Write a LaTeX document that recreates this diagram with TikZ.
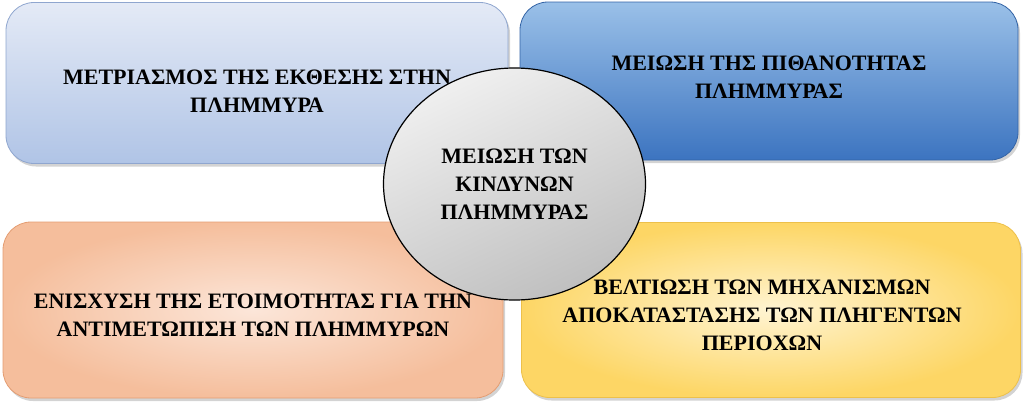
\documentclass[tikz,border=0pt]{standalone}
\usepackage{fontspec}
\setmainfont{Liberation Serif}
\usepackage{tikz}
\usetikzlibrary{shapes.geometric, shadows}
\definecolor{paleblue}{HTML}{E4EAF6}
\definecolor{paleblue2}{HTML}{B0C4E6}
\definecolor{paleedge}{HTML}{8FA6CF}
\definecolor{deepblue}{HTML}{9AC0E8}
\definecolor{deepblue2}{HTML}{3C74C0}
\definecolor{deepedge}{HTML}{3464A6}
\definecolor{peach}{HTML}{FCE6D9}
\definecolor{peach2}{HTML}{F5BE9C}
\definecolor{peachedge}{HTML}{E49D72}
\definecolor{butter}{HTML}{FFF4D2}
\definecolor{butter2}{HTML}{FDD665}
\definecolor{butteredge}{HTML}{EDC04A}
\tikzstyle{card} = [rectangle, draw, rounded corners = 28pt, inner sep = 0pt, line width = 0.8pt, drop shadow = {shadow xshift = 2pt, shadow yshift = -3pt, opacity = 0.35}]
\tikzstyle{caption} = [align = center, font = \bfseries\fontsize{22}{28}\selectfont, inner sep = 0pt]
\tikzstyle{exposurecard} = [card, draw = paleedge, top color = paleblue, bottom color = paleblue2]
\tikzstyle{chancecard} = [card, draw = deepedge, top color = deepblue, bottom color = deepblue2]
\tikzstyle{readycard} = [card, draw = peachedge, shading = radial, inner color = peach, outer color = peach2]
\tikzstyle{recovercard} = [card, draw = butteredge, shading = radial, inner color = butter, outer color = butter2]
\tikzstyle{core} = [ellipse, draw, line width = 1.2pt, inner sep = 0pt, top color = gray!12, bottom color = gray!50, shading angle = 25]

\begin{document}
\begin{tikzpicture}[x = 1pt, y = -1pt]
			\useasboundingbox (0, 0) rectangle (1024, 410);
			% Place cards
			\node [exposurecard, minimum width = 502pt, minimum height = 161pt, label = {[caption, yshift = -8pt]center:ΜΕΤΡΙΑΣΜΟΣ ΤΗΣ ΕΚΘΕΣΗΣ ΣΤΗΝ\\ΠΛΗΜΜΥΡΑ}] (exposure) at (257, 83) {};
			\node [chancecard, minimum width = 498pt, minimum height = 158pt, label = {[caption, yshift = 4pt]center:ΜΕΙΩΣΗ ΤΗΣ ΠΙΘΑΝΟΤΗΤΑΣ\\ΠΛΗΜΜΥΡΑΣ}] (chance) at (769, 81) {};
			\node [readycard, minimum width = 500pt, minimum height = 176pt, label = {[caption, yshift = -5pt]center:ΕΝΙΣΧΥΣΗ ΤΗΣ ΕΤΟΙΜΟΤΗΤΑΣ ΓΙΑ ΤΗΝ\\ΑΝΤΙΜΕΤΩΠΙΣΗ ΤΩΝ ΠΛΗΜΜΥΡΩΝ}] (ready) at (253, 310) {};
			\node [recovercard, minimum width = 499pt, minimum height = 175pt, label = {[caption, yshift = -5pt, xshift = -9pt]center:ΒΕΛΤΙΩΣΗ ΤΩΝ ΜΗΧΑΝΙΣΜΩΝ\\ΑΠΟΚΑΤΑΣΤΑΣΗΣ ΤΩΝ ΠΛΗΓΕΝΤΩΝ\\ΠΕΡΙΟΧΩΝ}] (recover) at (771, 310) {};
			% Central circle
			\node [core, minimum width = 262pt, minimum height = 232pt, label = {[caption]center:ΜΕΙΩΣΗ ΤΩΝ\\ΚΙΝΔΥΝΩΝ\\ΠΛΗΜΜΥΡΑΣ}] (risk) at (514.5, 184) {};
		\end{tikzpicture}
\end{document}
